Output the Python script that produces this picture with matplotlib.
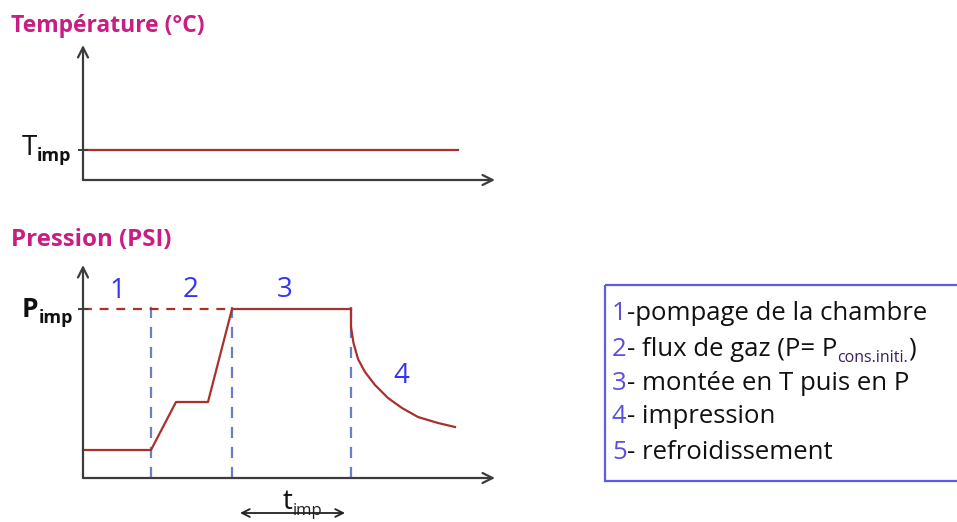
import matplotlib
matplotlib.use("Agg")
import matplotlib.pyplot as plt
from matplotlib.patches import Rectangle

plt.rcParams['font.family'] = ['Open Sans', 'DejaVu Sans']

# temperature profile (arbitrary units)
t_temp = [0, 37.5]
T_temp = [3.0, 3.0]
T_imp = 3.0

# pressure profile
t_pres = [0, 6.8, 9.3, 12.5, 14.9, 26.8]
P_pres = [2.8, 2.8, 7.6, 7.6, 16.9, 16.9]
t_decay = [26.8, 26.8, 27.05, 27.5, 28.2, 29.2, 30.5, 31.9, 33.5, 35.5, 37.2]
P_decay = [16.9, 15.1, 13.5, 11.9, 10.6, 9.3, 8.0, 7.0, 6.1, 5.5, 5.1]
P_imp = 16.9
t_phases = [6.8, 14.9, 26.8]
t_imp_span = [15.7, 26.2]

phase_labels = ['1', '2', '3', '4']
phase_label_t = [3.4, 10.8, 20.2, 31.8]
phase_label_P = [18.7, 18.8, 18.8, 10.2]

legend_nums = ['1', '2', '3', '4', '5']
legend_texts = ['-pompage de la chambre', '- flux de gaz (P= P', '- montée en T puis en P',
                '- impression', '- refroidissement']

RED = '#a8312c'
BLUE_DASH = '#6a7fc8'
MAGENTA = '#c81e82'
AXIS = '#3c3c3c'
NUM_BLUE = '#3434f5'

W, H = 957, 522
fig = plt.figure(figsize=(W / 100, H / 100), dpi=100)

# overlay in pixel coordinates for free text and the legend box
ov = fig.add_axes([0, 0, 1, 1])
ov.set_xlim(0, W)
ov.set_ylim(H, 0)
ov.axis('off')

ax1 = fig.add_axes([83 / W, (H - 180) / H, 412 / W, 135 / H])
ax2 = fig.add_axes([83 / W, (H - 478) / H, 412 / W, 213 / H])
ax1.set_xlim(0, 41.2)
ax1.set_ylim(0, 13.5)
ax2.set_xlim(0, 41.2)
ax2.set_ylim(0, 21.3)

for ax in (ax1, ax2):
    ax.axis('off')
    x0, x1 = ax.get_xlim()
    y0, y1 = ax.get_ylim()
    ax.annotate('', xy=(x1, 0), xytext=(0, 0), annotation_clip=False,
                arrowprops=dict(arrowstyle='->', color=AXIS, lw=1.6, mutation_scale=18,
                                shrinkA=0, shrinkB=0))
    ax.annotate('', xy=(0, y1), xytext=(0, 0), annotation_clip=False,
                arrowprops=dict(arrowstyle='->', color=AXIS, lw=1.6, mutation_scale=18,
                                shrinkA=0, shrinkB=0))

# top panel
ax1.plot(t_temp, T_temp, color=RED, lw=1.6, clip_on=False)
ax1.plot([-0.4, 0.4], [T_imp, T_imp], color=AXIS, lw=1.4, clip_on=False)

# bottom panel
for tp in t_phases:
    ax2.plot([tp, tp], [0, 17.6], color=BLUE_DASH, lw=1.6, dashes=(5, 4), clip_on=False)
ax2.plot([0, t_phases[1]], [P_imp, P_imp], color=RED, lw=1.6, dashes=(4, 3.5), clip_on=False)
ax2.plot(t_pres, P_pres, color=RED, lw=1.6, clip_on=False)
ax2.plot(t_decay, P_decay, color=RED, lw=1.6, clip_on=False)
ax2.plot([-0.4, 0.4], [P_imp, P_imp], color=AXIS, lw=1.4, clip_on=False)

for lab, tx, py in zip(phase_labels, phase_label_t, phase_label_P):
    ax2.text(tx, py, lab, color=NUM_BLUE, fontsize=20, ha='center', va='center')

ax2.annotate('', xy=(t_imp_span[1], -3.5), xytext=(t_imp_span[0], -3.5), annotation_clip=False,
             arrowprops=dict(arrowstyle='<->', color='#222222', lw=1.3, mutation_scale=14,
                             shrinkA=0, shrinkB=0))

# titles
ov.text(11, 26, 'Température (°C)', color=MAGENTA, fontsize=16.5, fontweight='bold', va='center')
ov.text(11, 240, 'Pression (PSI)', color=MAGENTA, fontsize=17.3, fontweight='bold', va='center')

r = fig.canvas.get_renderer()


def pieces(x, y, parts):
    for s, size, color, weight, dy in parts:
        t = ov.text(x, y + dy, s, fontsize=size, color=color, fontweight=weight, va='baseline')
        x += t.get_window_extent(r).width


pieces(22, 155, [('T', 20, '#111111', 'normal', 0), ('imp', 13, '#111111', 'bold', 6)])
pieces(22, 317, [('P', 19, '#111111', 'bold', 0), ('imp', 13, '#111111', 'bold', 6)])
pieces(283, 509, [('t', 20, '#111111', 'normal', 0), ('imp', 12, '#222222', 'normal', 6)])

# legend box
ov.add_patch(Rectangle((605, 285), 370, 196, fill=False, edgecolor='#5b5bef', lw=1.6, clip_on=False))
baselines = [320, 356, 390, 423, 459]
for num, txt, yb in zip(legend_nums, legend_texts, baselines):
    parts = [(num, 18.5, '#5a4fe0', 'normal', 0), (txt, 18.5, '#111111', 'normal', 0)]
    if num == '2':
        parts += [('cons.initi.', 11.5, '#3a2060', 'normal', 6), (')', 18.5, '#111111', 'normal', 0)]
    pieces(612, yb, parts)

fig.savefig('out.png', dpi=100)
